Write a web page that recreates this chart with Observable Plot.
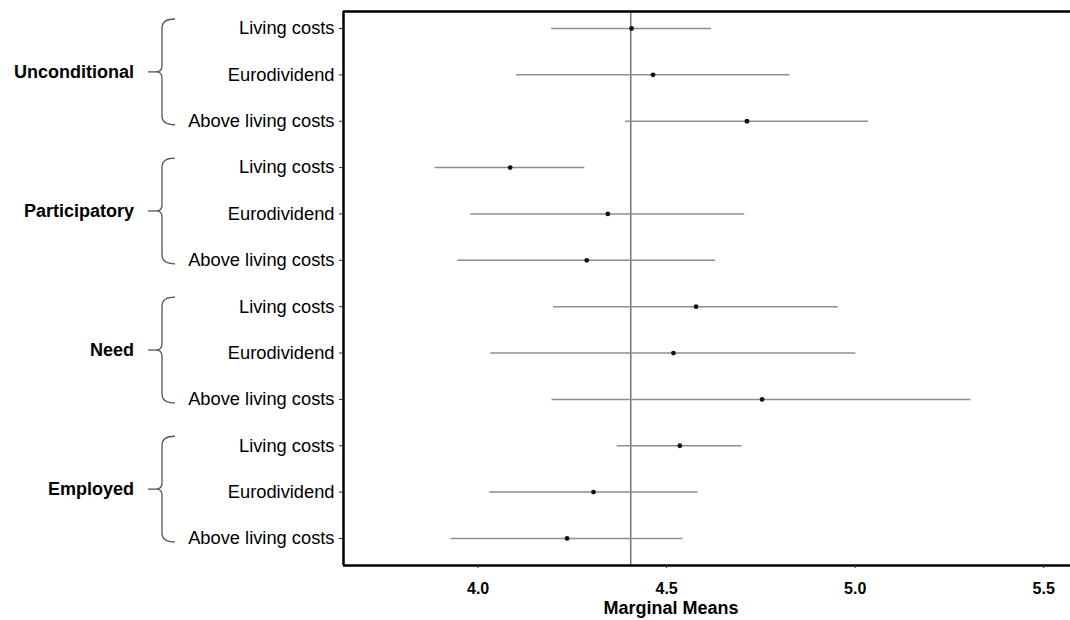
<!DOCTYPE html>
<html>
<head>
<meta charset="utf-8">
<script src="https://cdn.jsdelivr.net/npm/d3@7"></script>
<script src="https://cdn.jsdelivr.net/npm/@observablehq/plot@0.6"></script>
<style>
  html, body { margin: 0; padding: 0; background: #fff; overflow: hidden; }
  #chart svg { display: block; }
</style>
</head>
<body>
<div id="chart"></div>
<script>
// Basic-income design attributes: four conditionality groups, three levels each
const groups = ["Unconditional", "Participatory", "Need", "Employed"];
const levels = ["Living costs", "Eurodividend", "Above living costs"];

// Marginal means with lower / upper confidence bounds, one entry per row (top to bottom)
const means = [4.407, 4.464, 4.713, 4.085, 4.344, 4.288, 4.578, 4.518, 4.753, 4.535, 4.306, 4.236];
const lower = [4.195, 4.102, 4.391, 3.886, 3.981, 3.946, 4.200, 4.034, 4.196, 4.369, 4.031, 3.928];
const upper = [4.619, 4.827, 5.035, 4.283, 4.707, 4.630, 4.955, 5.002, 5.307, 4.700, 4.583, 4.543];

// Grand mean drawn as the vertical reference line
const referenceMean = 4.405;

// x-axis ticks and title
const xTicks = [4.0, 4.5, 5.0, 5.5];
const xTitle = "Marginal Means";

const FONT = '"Liberation Sans", Arial, Helvetica, sans-serif';

const rows = means.map((m, i) => ({
  row: i,
  group: groups[Math.floor(i / 3)],
  level: levels[i % 3],
  mean: m,
  lo: lower[i],
  hi: upper[i]
}));

const xDomain = [3.643, 5.571];
const yDomain = [-0.367, 11.583];

const chart = Plot.plot({
  width: 1070,
  height: 620,
  marginLeft: 343,
  marginRight: 0,
  marginTop: 11,
  marginBottom: 55,
  style: { fontFamily: FONT, color: "#000", background: "#fff", overflow: "visible" },
  x: { domain: xDomain },
  y: { domain: yDomain, reverse: true },
  marks: [
    Plot.ruleX([referenceMean], { stroke: "#333", strokeWidth: 1 }),
    Plot.ruleY(rows, { y: "row", x1: "lo", x2: "hi", stroke: "#8e8e8e", strokeWidth: 1.5 }),
    Plot.dot(rows, { x: "mean", y: "row", r: 2.4, fill: "#111", stroke: null }),
    // panel border: left, top and bottom
    Plot.ruleX([xDomain[0]], { stroke: "#000", strokeWidth: 2.5 }),
    Plot.ruleY(yDomain, { stroke: "#000", strokeWidth: 2.5 }),
    Plot.axisY({
      ticks: rows.map(d => d.row),
      tickFormat: i => levels[i % 3],
      tickSize: 4,
      tickPadding: 5,
      fontSize: 18.3,
      label: null,
      stroke: "#333"
    }),
    Plot.axisX({
      ticks: xTicks,
      tickFormat: d3.format(".1f"),
      tickSize: 3,
      tickPadding: 14,
      fontSize: 16,
      fontWeight: "bold",
      label: null,
      stroke: "#333"
    })
  ]
});

document.getElementById("chart").appendChild(chart);

// Group brackets and group names in the left margin, placed from the y scale
const yScale = chart.scale("y");
const svg = d3.select(chart);
const ann = svg.append("g").attr("font-family", FONT);

groups.forEach((name, k) => {
  const top = yScale.apply(3 * k) - 9;
  const bot = yScale.apply(3 * k + 2) + 4;
  const mid = (top + bot) / 2;
  const xs = 162, xe = 175, xt = 156;
  const path = `M${xe},${top} Q${xs},${top} ${xs},${top + 9}`
    + ` L${xs},${mid - 6} Q${xs},${mid} ${xt},${mid}`
    + ` Q${xs},${mid} ${xs},${mid + 6}`
    + ` L${xs},${bot - 9} Q${xs},${bot} ${xe},${bot}`;
  ann.append("path")
    .attr("d", path)
    .attr("fill", "none")
    .attr("stroke", "#555")
    .attr("stroke-width", 1.3);
  ann.append("line")
    .attr("x1", 148).attr("x2", xt)
    .attr("y1", mid).attr("y2", mid)
    .attr("stroke", "#555")
    .attr("stroke-width", 1.3);
  ann.append("text")
    .attr("x", 134)
    .attr("y", mid)
    .attr("dy", "0.35em")
    .attr("text-anchor", "end")
    .attr("font-size", 18)
    .attr("font-weight", "bold")
    .attr("fill", "#000")
    .text(name);
});

ann.append("text")
  .attr("x", 671)
  .attr("y", 614)
  .attr("text-anchor", "middle")
  .attr("font-size", 18)
  .attr("font-weight", "bold")
  .attr("fill", "#000")
  .text(xTitle);
</script>
</body>
</html>
